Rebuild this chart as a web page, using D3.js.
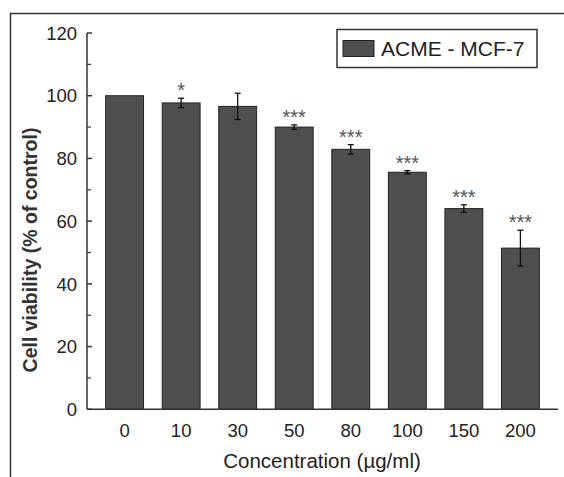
<!DOCTYPE html>
<html>
<head>
<meta charset="utf-8">
<script src="https://cdn.jsdelivr.net/npm/d3@7"></script>
<style>
  body { margin: 0; background: #fff; }
  svg { display: block; font-family: Arial, "Liberation Sans", sans-serif; }
</style>
</head>
<body>
<div id="chart"></div>
<script>
// data
const concentrations = ["0", "10", "30", "50", "80", "100", "150", "200"];
const viability = [100, 97.7, 96.6, 90.0, 82.9, 75.6, 64.0, 51.4];
const errors = [0, 1.5, 4.2, 0.7, 1.5, 0.5, 1.2, 5.7];
const marks = ["", "*", "", "***", "***", "***", "***", "***"];
const yTicks = [0, 20, 40, 60, 80, 100, 120];
const seriesName = "ACME - MCF-7";

const width = 564, height = 477;
const barFill = "#4f4f51";

const svg = d3.select("#chart").append("svg")
    .attr("width", width)
    .attr("height", height);

// outer frame of the figure (top + left edges)
svg.append("path")
    .attr("d", "M10.5,477 V13.5 H564")
    .attr("fill", "none")
    .attr("stroke", "#333")
    .attr("stroke-width", 1.5);

const x = d3.scaleBand()
    .domain(concentrations)
    .range([87, 558])
    .paddingInner(0.33)
    .paddingOuter(0.33);

const y = d3.scaleLinear()
    .domain([0, 120])
    .range([409.3, 33]);

// bars
svg.append("g")
    .selectAll("rect")
    .data(viability)
    .enter()
    .append("rect")
    .attr("x", (d, i) => x(concentrations[i]))
    .attr("y", d => y(d))
    .attr("width", x.bandwidth())
    .attr("height", d => y(0) - y(d))
    .attr("fill", barFill)
    .attr("stroke", "#222")
    .attr("stroke-width", 1);

// error bars
const errG = svg.append("g")
    .attr("stroke", "#111")
    .attr("stroke-width", 1.3);

viability.forEach((v, i) => {
    if (!errors[i]) return;
    const cx = x(concentrations[i]) + x.bandwidth() / 2;
    const top = y(v + errors[i]), bot = y(v - errors[i]);
    errG.append("line").attr("x1", cx).attr("x2", cx).attr("y1", top).attr("y2", bot);
    errG.append("line").attr("x1", cx - 3).attr("x2", cx + 3).attr("y1", top).attr("y2", top);
    errG.append("line").attr("x1", cx - 3).attr("x2", cx + 3).attr("y1", bot).attr("y2", bot);
});

// significance stars
svg.append("g")
    .selectAll("text")
    .data(marks)
    .enter()
    .append("text")
    .attr("x", (d, i) => x(concentrations[i]) + x.bandwidth() / 2)
    .attr("y", (d, i) => y(viability[i] + errors[i]) - 1)
    .attr("text-anchor", "middle")
    .attr("font-size", 20)
    .attr("fill", "#555")
    .text(d => d);

// y axis
const yAxis = svg.append("g")
    .attr("transform", "translate(87,0)");

yAxis.append("line")
    .attr("x1", 0).attr("x2", 0)
    .attr("y1", y(120)).attr("y2", y(0))
    .attr("stroke", "#333").attr("stroke-width", 1.5);

yAxis.selectAll(".minor")
    .data(d3.range(10, 120, 20))
    .enter()
    .append("line")
    .attr("x1", 0).attr("x2", 4)
    .attr("y1", d => y(d)).attr("y2", d => y(d))
    .attr("stroke", "#333").attr("stroke-width", 1.2);

yAxis.selectAll(".major")
    .data(yTicks)
    .enter()
    .append("line")
    .attr("x1", 0).attr("x2", 5)
    .attr("y1", d => y(d)).attr("y2", d => y(d))
    .attr("stroke", "#333").attr("stroke-width", 1.5);

yAxis.selectAll("text")
    .data(yTicks)
    .enter()
    .append("text")
    .attr("x", -10)
    .attr("y", d => y(d))
    .attr("dy", "0.36em")
    .attr("text-anchor", "end")
    .attr("font-size", 18.5)
    .attr("fill", "#222")
    .text(d => d);

// x axis
svg.append("line")
    .attr("x1", 87).attr("x2", 558)
    .attr("y1", y(0)).attr("y2", y(0))
    .attr("stroke", "#333").attr("stroke-width", 1.5);

svg.append("g")
    .selectAll("text")
    .data(concentrations)
    .enter()
    .append("text")
    .attr("x", d => x(d) + x.bandwidth() / 2)
    .attr("y", 437)
    .attr("text-anchor", "middle")
    .attr("font-size", 18.5)
    .attr("fill", "#222")
    .text(d => d);

// axis titles
svg.append("text")
    .attr("x", 322)
    .attr("y", 468)
    .attr("text-anchor", "middle")
    .attr("font-size", 20.5)
    .attr("fill", "#222")
    .text("Concentration (\u00b5g/ml)");

svg.append("text")
    .attr("transform", "translate(37,250) rotate(-90)")
    .attr("text-anchor", "middle")
    .attr("font-size", 19.5)
    .attr("font-weight", "bold")
    .attr("fill", "#333")
    .text("Cell viability (% of control)");

// legend
const legend = svg.append("g");
legend.append("rect")
    .attr("x", 337).attr("y", 29.5)
    .attr("width", 200).attr("height", 38)
    .attr("fill", "#fff")
    .attr("stroke", "#333").attr("stroke-width", 1.5);
legend.append("rect")
    .attr("x", 343).attr("y", 40.5)
    .attr("width", 31).attr("height", 16)
    .attr("fill", barFill)
    .attr("stroke", "#222").attr("stroke-width", 1);
legend.append("text")
    .attr("x", 381)
    .attr("y", 55.5)
    .attr("font-size", 21)
    .attr("fill", "#222")
    .text(seriesName);
</script>
</body>
</html>
